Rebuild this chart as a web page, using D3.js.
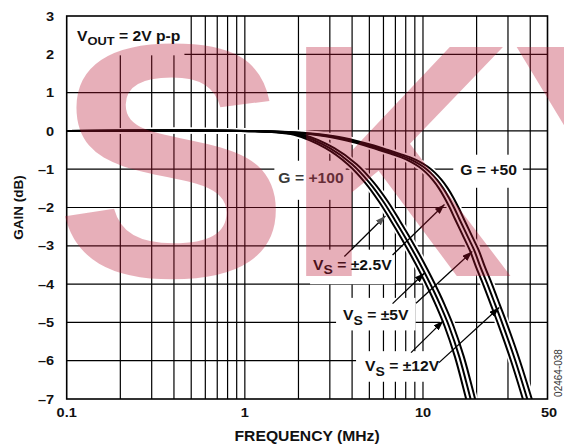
<!DOCTYPE html>
<html><head><meta charset="utf-8">
<script src="https://cdn.jsdelivr.net/npm/d3@7"></script>
<style>
html,body{margin:0;padding:0;background:#fff;}
svg{display:block;}
</style></head><body>
<svg id="chart" width="564" height="446"></svg>
<script>
// ---------------- data ----------------
const yTickValues = [3, 2, 1, 0, -1, -2, -3, -4, -5, -6, -7];
const yTickLabels = ["3", "2", "1", "0", "–1", "–2", "–3", "–4", "–5", "–6", "–7"];
const xTickValues = [0.1, 1, 10, 50];
const xTickLabels = ["0.1", "1", "10", "50"];
const xGridValues = [0.2,0.3,0.4,0.5,0.6,0.7,0.8,0.9,1,2,3,4,5,6,7,8,9,10,20,30,40];

// G = +100 : gain (dB) and frequency (MHz) for each supply
const g100Gain    = [0, 0, -0.03, -0.1, -0.45, -0.87, -1.35, -1.85, -2.35, -2.8, -3.22, -3.62, -4.22, -4.55, -5.1, -5.9, -7.0, -7.6];
const g100FreqVs2 = [0.1, 0.95, 1.42, 1.89, 2.84, 3.78, 4.73, 5.67, 6.62, 7.56, 8.5, 9.45, 10.96, 11.81, 13.23, 15.12, 17.48, 18.9];
const g100FreqVs5 = [0.1, 1, 1.5, 2, 3, 4, 5, 6, 7, 8, 9, 10, 11.6, 12.5, 14, 16, 18.5, 20];
const g100FreqVs12= [0.1, 1.06, 1.59, 2.12, 3.18, 4.24, 5.3, 6.36, 7.42, 8.48, 9.54, 10.6, 12.3, 13.25, 14.84, 16.96, 19.61, 21.2];

// G = +50
const g50Gain    = [0, 0, -0.05, -0.14, -0.26, -0.38, -0.5, -0.6, -0.69, -0.8, -0.93, -1.09, -1.28, -1.5, -1.75, -2.02, -2.3, -2.8, -3.12, -3.55, -4.0, -4.55, -5.05, -6.0, -7.0, -7.6];
const g50FreqVs2 = [0.1, 0.945, 1.89, 2.84, 3.78, 4.73, 5.67, 6.62, 7.56, 8.51, 9.45, 10.4, 11.34, 12.29, 13.23, 14.18, 15.12, 17.01, 18.33, 19.85, 21.74, 24.1, 26.46, 31.19, 36.38, 39.69];
const g50FreqVs5 = [0.1, 1, 2, 3, 4, 5, 6, 7, 8, 9, 10, 11, 12, 13, 14, 15, 16, 18, 19.4, 21, 23, 25.5, 28, 33, 38.5, 42];
const g50FreqVs12= [0.1, 1.06, 2.12, 3.18, 4.24, 5.3, 6.36, 7.42, 8.48, 9.54, 10.6, 11.66, 12.72, 13.78, 14.84, 15.9, 16.96, 19.08, 20.56, 22.26, 24.38, 27.03, 29.68, 34.98, 40.81, 44.52];

const series = [
  {gain: g100Gain, freq: g100FreqVs2},
  {gain: g100Gain, freq: g100FreqVs5},
  {gain: g100Gain, freq: g100FreqVs12},
  {gain: g50Gain,  freq: g50FreqVs2},
  {gain: g50Gain,  freq: g50FreqVs5},
  {gain: g50Gain,  freq: g50FreqVs12}
];

// annotations (data coordinates)
const vsLabels = [
  {main: "V", sub: "S", rest: " = ±2.5V", f: 2.415, g: -3.63, pad: [8, 3, 7, 3]},
  {main: "V", sub: "S", rest: " = ±5V",   f: 3.559, g: -4.94, pad: [10, 7, 3, 7]},
  {main: "V", sub: "S", rest: " = ±12V",  f: 4.73,  g: -6.28, pad: [8, 4, 3, 9]}
];
const gainLabels = [
  {text: "G = +100", f: 2.353, g: -1.36, pad: [10, 2, 14, 4], color: "#3a3a3a"},
  {text: "G = +50",  f: 23.35, g: -1.15, pad: [8, 6, 10, 7], color: "#111"}
];
const arrows = [
  {from: [3.62, -3.28], to: [6.15, -2.22], head: "gray"},
  {from: [6.75, -3.24], to: [13.2, -1.92], head: "black"},
  {from: [6.75, -4.51], to: [10.2, -3.71], head: "black"},
  {from: [9.14, -4.50], to: [18.9, -3.15], head: "black"},
  {from: [8.57, -5.79], to: [13.0, -4.96], head: "black"},
  {from: [12.3, -6.05], to: [26.8, -4.61], head: "black"}
];
const hGridEnd = {"-6": 4.6};
const watermarkLetters = ["S", "K", "Y"];

// ---------------- layout ----------------
const W = 564, H = 446;
const m = {left: 66.7, right: 16.5, top: 16, bottom: 47};
const x = d3.scaleLog().domain([0.1, 50]).range([m.left, W - m.right]);
const y = d3.scaleLinear().domain([3, -7]).range([m.top, H - m.bottom]);
const FONT = "'Liberation Sans', Arial, Helvetica, sans-serif";
const SX = 1.12;

const svg = d3.select("#chart");
const defs = svg.append("defs");
defs.append("clipPath").attr("id", "plotclip").append("rect")
  .attr("x", x.range()[0]).attr("y", y.range()[0])
  .attr("width", x.range()[1] - x.range()[0]).attr("height", y.range()[1] - y.range()[0]);
[["black", "#000"], ["gray", "#555"]].forEach(([id, c]) => {
  defs.append("marker").attr("id", "ah-" + id)
    .attr("markerUnits", "userSpaceOnUse").attr("markerWidth", 11).attr("markerHeight", 7)
    .attr("refX", 10).attr("refY", 3.5).attr("orient", "auto")
    .append("path").attr("d", "M0,0 L10,3.5 L0,7 Z").attr("fill", c);
});

const gGrid = svg.append("g");
const gBoxes = svg.append("g");
const gCurves = svg.append("g").attr("clip-path", "url(#plotclip)");
const gArrows = svg.append("g");
const gLabels = svg.append("g");
const gAxes = svg.append("g");
const gMark = svg.append("g");

// grid
gGrid.selectAll("line.v").data(xGridValues).join("line")
  .attr("x1", d => x(d)).attr("x2", d => x(d))
  .attr("y1", y.range()[0]).attr("y2", y.range()[1])
  .attr("stroke", "#000").attr("stroke-width", 1.2);
gGrid.selectAll("line.h").data(yTickValues.slice(1, -1)).join("line")
  .attr("x1", x.range()[0])
  .attr("x2", d => hGridEnd[String(d)] ? x(hGridEnd[String(d)]) : x.range()[1])
  .attr("y1", d => y(d)).attr("y2", d => y(d))
  .attr("stroke", "#000").attr("stroke-width", 1.2);

// curves
const line = d3.line().x(d => x(d[0])).y(d => y(d[1])).curve(d3.curveCatmullRom.alpha(0.5));
const pts = series.map(s => s.freq.map((f, i) => [f, s.gain[i]]));
gCurves.selectAll("path.under").data(pts).join("path")
  .attr("d", line).attr("fill", "none").attr("stroke", "#fff").attr("stroke-width", 5.5);
gCurves.selectAll("path.curve").data(pts).join("path")
  .attr("d", line).attr("fill", "none").attr("stroke", "#000").attr("stroke-width", 2);

// helper: stretched text
function stext(parent, px, py, anchor, size, weight, fill) {
  const g = parent.append("g").attr("transform", `translate(${px},${py}) scale(${SX},1)`);
  const t = g.append("text").attr("x", 0).attr("y", 0)
    .attr("text-anchor", anchor).attr("font-family", FONT)
    .attr("font-size", size).attr("font-weight", weight).attr("fill", fill);
  return {g, t};
}
function addBox(node, pad) {
  const b = node.getBBox();
  const ctm = node.getCTM();
  const x0 = ctm.a * b.x + ctm.e, x1 = ctm.a * (b.x + b.width) + ctm.e;
  const y0 = b.y + ctm.f, y1 = b.y + b.height + ctm.f;
  return [x0 - pad[3], y0 - pad[0], (x1 - x0) + pad[1] + pad[3], (y1 - y0) + pad[0] + pad[2]];
}

// VOUT label
{
  const {t} = stext(gLabels, x(0.1143), y(2.36), "start", 14, "bold", "#111");
  t.append("tspan").text("V");
  t.append("tspan").attr("font-size", 11.5).attr("dy", 4).text("OUT");
  t.append("tspan").attr("dy", -4).text(" = 2V p-p");
  const r = addBox(t.node(), [20, 4, 8, 20]);
  gBoxes.append("rect").attr("x", x.range()[0]).attr("y", y.range()[0])
    .attr("width", r[0] + r[2] - x.range()[0]).attr("height", r[1] + r[3] - y.range()[0]).attr("fill", "#fff");
}
// gain labels
gainLabels.forEach(L => {
  const {t} = stext(gLabels, x(L.f), y(L.g), "middle", 14, "bold", L.color);
  t.text(L.text);
  const r = addBox(t.node(), L.pad);
  gBoxes.append("rect").attr("x", r[0]).attr("y", r[1]).attr("width", r[2]).attr("height", r[3]).attr("fill", "#fff");
});
// Vs labels
vsLabels.forEach(L => {
  const {t} = stext(gLabels, x(L.f), y(L.g), "start", 14, "bold", "#111");
  t.append("tspan").text(L.main);
  t.append("tspan").attr("font-size", 12.5).attr("dy", 4.5).text(L.sub);
  t.append("tspan").attr("dy", -4.5).text(L.rest);
  const r = addBox(t.node(), L.pad);
  gBoxes.append("rect").attr("x", r[0]).attr("y", r[1]).attr("width", r[2]).attr("height", r[3]).attr("fill", "#fff");
});

// arrows
gArrows.selectAll("line").data(arrows).join("line")
  .attr("x1", d => x(d.from[0])).attr("y1", d => y(d.from[1]))
  .attr("x2", d => x(d.to[0])).attr("y2", d => y(d.to[1]))
  .attr("stroke", "#000").attr("stroke-width", 1.3)
  .attr("marker-end", d => `url(#ah-${d.head})`);

// border
gAxes.append("rect").attr("x", x.range()[0]).attr("y", y.range()[0])
  .attr("width", x.range()[1] - x.range()[0]).attr("height", y.range()[1] - y.range()[0])
  .attr("fill", "none").attr("stroke", "#000").attr("stroke-width", 1.6);

// y tick labels
yTickValues.forEach((v, i) => {
  const {t} = stext(gAxes, m.left - 12.5, y(v), "end", 13, "bold", "#111");
  t.attr("dy", "0.36em").text(yTickLabels[i]);
});
// x tick labels
xTickValues.forEach((v, i) => {
  const {t} = stext(gAxes, x(v) + (i === xTickValues.length - 1 ? 1.5 : 0), y.range()[1] + 18, "middle", 13, "bold", "#111");
  t.text(xTickLabels[i]);
});
// axis titles
{
  const {t} = stext(gAxes, (x.range()[0] + x.range()[1]) / 2, H - 5, "middle", 14, "bold", "#111");
  t.text("FREQUENCY (MHz)");
}
gAxes.append("text")
  .attr("transform", `translate(18,${(y.range()[0] + y.range()[1]) / 2}) rotate(-90)`)
  .attr("text-anchor", "middle").attr("dy", "0.36em")
  .attr("font-family", FONT).attr("font-size", 13.5).attr("font-weight", "bold").attr("fill", "#111")
  .text("GAIN (dB)");
gAxes.append("text")
  .attr("transform", `translate(558.5,373) rotate(-90)`)
  .attr("text-anchor", "middle").attr("dy", "0.36em")
  .attr("font-family", FONT).attr("font-size", 10).attr("fill", "#333")
  .text("02464-038");

// watermark overlay (one letter per element)
const wmPlace = [[55, 1.056], [285, 0.95], [511, 1.0]];
watermarkLetters.forEach((ch, i) => {
  gMark.append("g").attr("transform", `translate(${wmPlace[i][0]},276) scale(${wmPlace[i][1]},1)`)
    .append("text").attr("x", 0).attr("y", 0)
    .attr("font-family", FONT).attr("font-size", 333).attr("font-weight", "bold")
    .attr("fill", "rgb(185,20,50)").attr("fill-opacity", 0.34)
    .text(ch);
});
</script>
</body></html>
